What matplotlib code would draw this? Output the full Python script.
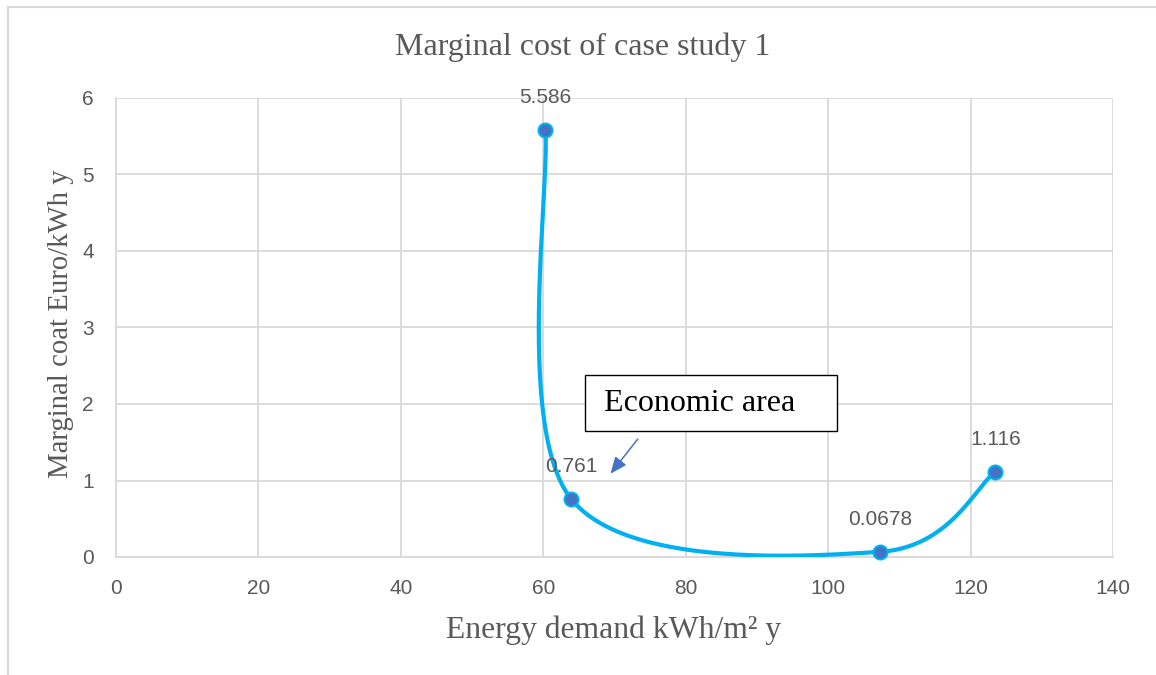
import numpy as np
import matplotlib
matplotlib.use("Agg")
import matplotlib.pyplot as plt
from matplotlib.patches import Rectangle

# marginal cost per energy demand level
energy_demand = [60.3, 63.9, 107.3, 123.5]
marginal_cost = [5.586, 0.761, 0.0678, 1.116]
cost_labels = ["5.586", "0.761", "0.0678", "1.116"]

x_ticks = [0, 20, 40, 60, 80, 100, 120, 140]
y_ticks = [0, 1, 2, 3, 4, 5, 6]

LINE_BLUE = "#00B0F0"
MARKER_BLUE = "#4472C4"
GRID = "#D9D9D9"
TEXT_GRAY = "#595959"
SERIF = "Liberation Serif"
SANS = "Liberation Sans"


def smooth_curve(ax, xs, ys, n=60):
    """Excel-style smoothed line: cubic Bezier segments built in display space."""
    pts = ax.transData.transform(np.column_stack([xs, ys]))
    padded = np.vstack([pts[0], pts, pts[-1]])
    out = []
    for i in range(len(pts) - 1):
        p0, p1, p2, p3 = padded[i], padded[i + 1], padded[i + 2], padded[i + 3]
        c1 = p1 + (p2 - p0) / 6.0
        c2 = p2 - (p3 - p1) / 6.0
        t = np.linspace(0, 1, n)[:, None]
        seg = ((1 - t) ** 3) * p1 + 3 * ((1 - t) ** 2) * t * c1 \
            + 3 * (1 - t) * t ** 2 * c2 + t ** 3 * p2
        out.append(seg)
    curve = ax.transData.inverted().transform(np.vstack(out))
    return curve[:, 0], curve[:, 1]


fig = plt.figure(figsize=(11.56, 6.75), dpi=100)
ax = fig.add_axes([116 / 1156, 1 - 557 / 675, 997 / 1156, 459 / 675])

ax.set_xlim(0, 140)
ax.set_ylim(0, 6)
ax.set_xticks(x_ticks)
ax.set_yticks(y_ticks)
ax.grid(True, color=GRID, linewidth=1.3)
ax.set_axisbelow(True)
for side in ["top", "right"]:
    ax.spines[side].set_visible(False)
for side in ["left", "bottom"]:
    ax.spines[side].set_color(GRID)
    ax.spines[side].set_linewidth(1.3)
ax.tick_params(length=0, pad=16, labelsize=15, labelcolor=TEXT_GRAY)
for lbl in ax.get_xticklabels() + ax.get_yticklabels():
    lbl.set_fontfamily(SANS)

cx, cy = smooth_curve(ax, energy_demand, marginal_cost)
ax.plot(cx, cy, color=LINE_BLUE, linewidth=3, solid_capstyle="round", zorder=3)
ax.plot(energy_demand, marginal_cost, linestyle="none", marker="o", markersize=10,
        markerfacecolor=MARKER_BLUE, markeredgecolor=LINE_BLUE, markeredgewidth=1.5,
        zorder=4, clip_on=False)

for x, y, txt in zip(energy_demand, marginal_cost, cost_labels):
    ax.annotate(txt, (x, y), xytext=(0, 23), textcoords="offset points",
                ha="center", va="center", fontsize=15, color=TEXT_GRAY,
                family=SANS, annotation_clip=False)

# callout marking the economic area
ax.add_patch(Rectangle((65.9, 1.647), 35.35, 0.732, facecolor="white",
                       edgecolor="black", linewidth=1, zorder=5))
ax.text(68.5, 2.0, "Economic area", ha="left", va="center", fontsize=23,
        family=SERIF, color="black", zorder=6)
ax.annotate("", xy=(69.2, 1.06), xytext=(73.5, 1.57),
            arrowprops=dict(arrowstyle="-|>,head_length=1.0,head_width=0.42",
                            color=MARKER_BLUE, linewidth=1.1))

fig.text(583 / 1156, 1 - 47 / 675, "Marginal cost of case study 1", ha="center",
         va="center", fontsize=23, family=SERIF, color=TEXT_GRAY)
fig.text(614 / 1156, 1 - 630 / 675, "Energy demand kWh/m² y", ha="center",
         va="center", fontsize=22.8, family=SERIF, color=TEXT_GRAY)
fig.text(61 / 1156, 1 - 324 / 675, "Marginal coat Euro/kWh y", ha="center",
         va="center", rotation=90, fontsize=20.7, family=SERIF, color=TEXT_GRAY)

# chart area border
fig.patches.append(Rectangle((8 / 1156, -0.05), 1.2, 1 - 7 / 675 + 0.05,
                             transform=fig.transFigure, fill=False,
                             edgecolor="#D9D9D9", linewidth=1.5))

fig.savefig("out.png", dpi=100)
